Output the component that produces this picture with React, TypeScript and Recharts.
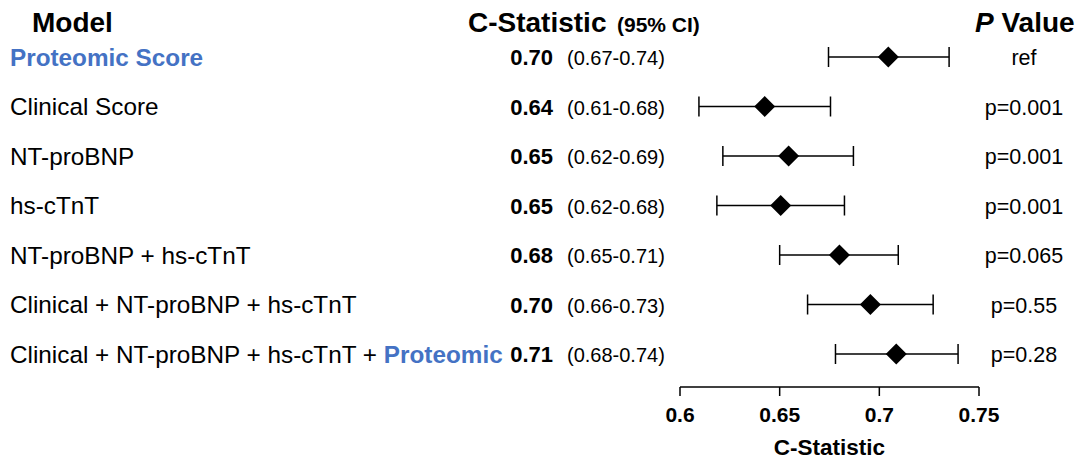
import { ScatterChart, Scatter, XAxis, YAxis, ErrorBar } from "recharts";

const models = [
  "Proteomic Score",
  "Clinical Score",
  "NT-proBNP",
  "hs-cTnT",
  "NT-proBNP + hs-cTnT",
  "Clinical + NT-proBNP + hs-cTnT",
  "Clinical + NT-proBNP + hs-cTnT + ",
];
// blue bold tail appended to a model name
const modelTails = ["", "", "", "", "", "", "Proteomic"];
const estimates = [0.7045, 0.6425, 0.6545, 0.6505, 0.68, 0.6955, 0.7085];
const lowerCI = [0.6745, 0.6095, 0.6215, 0.6185, 0.65, 0.664, 0.678];
const upperCI = [0.735, 0.6755, 0.687, 0.6825, 0.7095, 0.727, 0.7395];
const estimateLabels = ["0.70", "0.64", "0.65", "0.65", "0.68", "0.70", "0.71"];
const ciLabels = [
  "(0.67-0.74)",
  "(0.61-0.68)",
  "(0.62-0.69)",
  "(0.62-0.68)",
  "(0.65-0.71)",
  "(0.66-0.73)",
  "(0.68-0.74)",
];
const pValues = ["ref", "p=0.001", "p=0.001", "p=0.001", "p=0.065", "p=0.55", "p=0.28"];
const xTicks = [0.6, 0.65, 0.7, 0.75];

const FONT = "'Liberation Sans', Arial, sans-serif";
const BLUE = "#4472C4";

const data = models.map((m, i) => ({
  y: i,
  x: estimates[i],
  err: [estimates[i] - lowerCI[i], upperCI[i] - estimates[i]],
}));

function Diamond(props: any) {
  const { cx, cy } = props;
  const r = 10.5;
  return (
    <polygon
      points={`${cx},${cy - r} ${cx + r},${cy} ${cx},${cy + r} ${cx - r},${cy}`}
      fill="#000"
    />
  );
}

function RowTick(props: any) {
  const { y, payload } = props;
  const i = payload.value;
  if (i < 0 || i >= models.length) return null;
  const base = y + 8.5;
  return (
    <g fontFamily={FONT}>
      <text
        x={10}
        y={base + 0.5}
        fontSize={24.3}
        fill={i === 0 ? BLUE : "#000"}
        fontWeight={i === 0 ? "bold" : "normal"}
        style={{ whiteSpace: "pre" }}
      >
        {models[i]}
        {modelTails[i] && (
          <tspan fill={BLUE} fontWeight="bold">
            {modelTails[i]}
          </tspan>
        )}
      </text>
      <text x={553} y={base} fontSize={22} fontWeight="bold" fill="#000" textAnchor="end">
        {estimateLabels[i]}
      </text>
      <text x={567} y={base} fontSize={20} fill="#000">
        {ciLabels[i]}
      </text>
      <text x={1024} y={base} fontSize={21.5} fill="#000" textAnchor="middle">
        {pValues[i]}
      </text>
    </g>
  );
}

export default function App() {
  return (
    <div style={{ position: "absolute", left: 0, top: 0, width: 1078, height: 459, background: "#fff" }}>
      <ScatterChart
        width={1078}
        height={459}
        margin={{ top: 32.25, right: 99, bottom: 0, left: 0 }}
      >
        <XAxis
          type="number"
          dataKey="x"
          domain={[0.6, 0.75]}
          ticks={xTicks}
          stroke="#000"
          strokeWidth={1.5}
          tickSize={9}
          tickMargin={11}
          height={72}
          tick={{ fill: "#000", fontSize: 21, fontWeight: "bold", fontFamily: FONT }}
          label={{
            value: "C-Statistic",
            position: "insideBottom",
            offset: 4,
            fill: "#000",
            fontSize: 22.5,
            fontWeight: "bold",
            fontFamily: FONT,
          }}
        />
        <YAxis
          type="number"
          dataKey="y"
          domain={[-0.5, 6.6667]}
          ticks={[0, 1, 2, 3, 4, 5, 6]}
          interval={0}
          reversed
          width={680}
          axisLine={false}
          tickLine={false}
          tick={<RowTick />}
        />
        <Scatter data={data} shape={<Diamond />} isAnimationActive={false}>
          <ErrorBar dataKey="err" direction="x" width={10} stroke="#000" strokeWidth={1.5} />
        </Scatter>
        <g fontFamily={FONT} fill="#000" fontWeight="bold">
          <text x={32} y={32} fontSize={28}>
            Model
          </text>
          <text x={468} y={32} fontSize={28}>
            C-Statistic
          </text>
          <text x={617} y={32} fontSize={21}>
            (95% CI)
          </text>
          <text x={975} y={32} fontSize={28} style={{ whiteSpace: "pre" }}>
            <tspan fontStyle="italic">P</tspan> Value
          </text>
        </g>
      </ScatterChart>
    </div>
  );
}
